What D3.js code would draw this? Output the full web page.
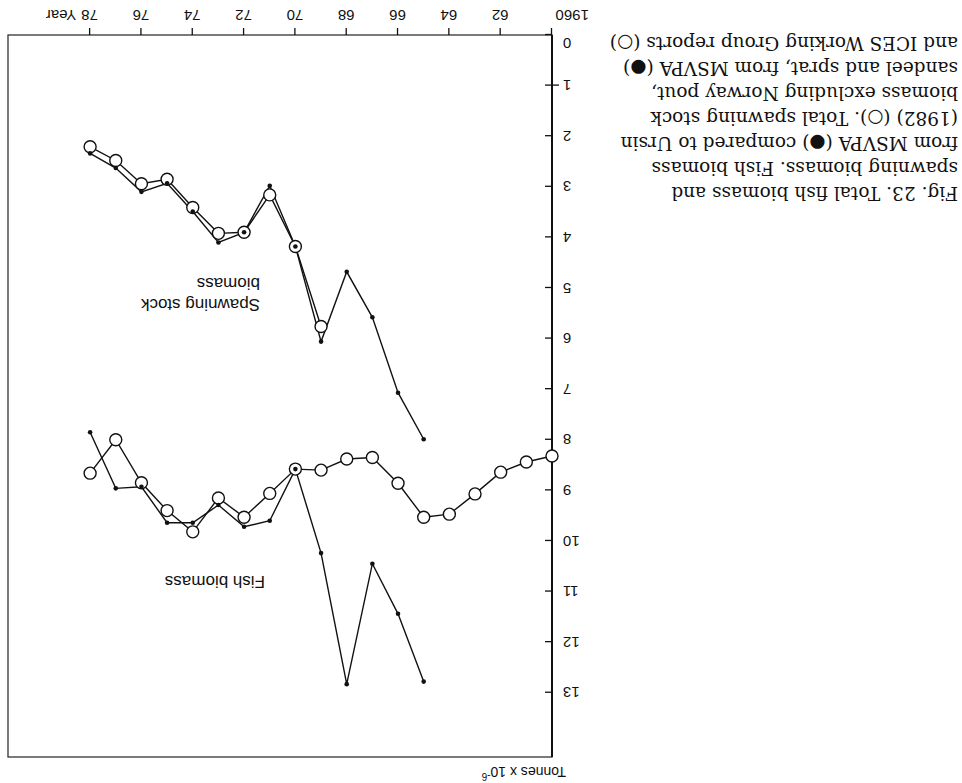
<!DOCTYPE html>
<html lang="en">
<head>
<meta charset="UTF-8">
<title>Fig. 23 - Total fish biomass and spawning biomass</title>
<style>
    body { margin: 0; background: #fff; }
    /* the reference page is printed upside down, so the whole chart is turned */
    #chart { display: block; transform: rotate(180deg); }
    .axis text { font-family: "Liberation Sans", Arial, sans-serif; font-size: 15px; fill: #111; }
    .axis line { stroke: #111; stroke-width: 1.3; }
    .axis .domain { display: none; }
    .label { font-family: "Liberation Sans", Arial, sans-serif; font-size: 17px; fill: #111; }
    .caption { font-family: "DejaVu Serif", serif; font-size: 18.5px; fill: #111; }
</style>
</head>
<body>
<svg id="chart"></svg>
<script src="https://d3js.org/d3.v7.min.js"></script>
<script>
    // fish biomass, Ursin (1982) - open circles
    const fishUrsinYears = [1960, 1961, 1962, 1963, 1964, 1965, 1966, 1967, 1968, 1969,
        1970, 1971, 1972, 1973, 1974, 1975, 1976, 1977, 1978];
    const fishUrsin = [8.32, 8.44, 8.64, 9.07, 9.47, 9.53, 8.86, 8.35, 8.38, 8.60,
        8.58, 9.06, 9.53, 9.15, 9.82, 9.40, 8.85, 8.00, 8.66];

    // fish biomass, MSVPA - dots
    const fishMsvpaYears = [1965, 1966, 1967, 1968, 1969, 1970, 1971, 1972, 1973, 1974, 1975, 1976, 1977, 1978];
    const fishMsvpa = [12.78, 11.44, 10.45, 12.83, 10.24, 8.58, 9.60, 9.72, 9.29, 9.64, 9.64, 8.93, 8.96, 7.85];

    // spawning stock biomass, ICES working group - open circles
    const spawnIcesYears = [1969, 1970, 1971, 1972, 1973, 1974, 1975, 1976, 1977, 1978];
    const spawnIces = [5.76, 4.18, 3.16, 3.90, 3.92, 3.41, 2.85, 2.94, 2.48, 2.21];

    // spawning stock biomass, MSVPA - dots
    const spawnMsvpaYears = [1965, 1966, 1967, 1968, 1969, 1970, 1971, 1972, 1973, 1974, 1975, 1976, 1977, 1978];
    const spawnMsvpa = [7.99, 7.07, 5.58, 4.68, 6.06, 4.18, 2.98, 3.90, 4.10, 3.49, 2.93, 3.10, 2.63, 2.34];

    const yearTicks = [1960, 1962, 1964, 1966, 1968, 1970, 1972, 1974, 1976, 1978];
    const tonneTicks = [0, 1, 2, 3, 4, 5, 6, 7, 8, 9, 10, 11, 12, 13];

    const captionLines = [
        "Fig. 23.  Total fish biomass and",
        "spawning biomass. Fish biomass",
        "from MSVPA (\u25CF) compared to Ursin",
        "(1982) (\u25CB). Total spawning stock",
        "biomass excluding Norway pout,",
        "sandeel and sprat, from MSVPA (\u25CF)",
        "and ICES Working Group reports (\u25CB)"
    ];

    const W = 962, H = 783;
    const svg = d3.select("#chart").attr("width", W).attr("height", H);

    const x = d3.scaleLinear().domain([1960, 1981.2]).range([410, 954]);
    const y = d3.scaleLinear().domain([0, 14.27]).range([748, 26]);

    const pts = (yrs, vals) => yrs.map((yr, i) => ({year: yr, value: vals[i]}));
    const fishU = pts(fishUrsinYears, fishUrsin);
    const fishM = pts(fishMsvpaYears, fishMsvpa);
    const spawnI = pts(spawnIcesYears, spawnIces);
    const spawnM = pts(spawnMsvpaYears, spawnMsvpa);

    // frame
    svg.append("rect")
        .attr("x", x(1960)).attr("y", y(14.27))
        .attr("width", x(1981.2) - x(1960)).attr("height", y(0) - y(14.27))
        .attr("fill", "none").attr("stroke", "#333").attr("stroke-width", 1.3);
    svg.append("line")
        .attr("x1", x(1960)).attr("x2", x(1960))
        .attr("y1", y(14.27)).attr("y2", y(0))
        .attr("stroke", "#111").attr("stroke-width", 2);

    // x axis, ticks outside
    const xAxis = svg.append("g").attr("class", "axis")
        .attr("transform", `translate(0,${y(0)})`)
        .call(d3.axisBottom(x).tickValues(yearTicks).tickSize(7).tickPadding(7)
            .tickFormat(d => d === 1960 ? "1960" : String(d).slice(2)));
    xAxis.selectAll(".tick text").filter(d => d === 1960)
        .attr("text-anchor", "end").attr("dx", "-4");
    xAxis.append("text")
        .attr("x", x(1978) + 14).attr("y", 14).attr("dy", "0.71em")
        .attr("text-anchor", "start").text("Year");

    // y axis, ticks inside
    const yAxis = svg.append("g").attr("class", "axis")
        .attr("transform", `translate(${x(1960)},0)`)
        .call(d3.axisLeft(y).tickValues(tonneTicks).tickSize(-7).tickPadding(11));
    yAxis.selectAll(".tick").filter(d => d === 1)
        .append("line").attr("x1", -7).attr("x2", 0);
    yAxis.selectAll(".tick text").filter(d => d === 0)
        .attr("dy", "-0.2em");
    yAxis.append("text")
        .attr("x", -14).attr("y", y(14.27) - 10)
        .attr("text-anchor", "start")
        .style("font-size", "14px")
        .text("Tonnes x 10")
        .append("tspan").attr("dy", "-6").style("font-size", "10px").text("-6");

    // lines
    const line = d3.line().x(d => x(d.year)).y(d => y(d.value));
    [fishU, fishM, spawnI, spawnM].forEach(s => {
        svg.append("path").datum(s)
            .attr("d", line)
            .attr("fill", "none").attr("stroke", "#111").attr("stroke-width", 1.4);
    });

    // open circles
    svg.append("g").selectAll("circle")
        .data(fishU.concat(spawnI))
        .join("circle")
        .attr("cx", d => x(d.year)).attr("cy", d => y(d.value))
        .attr("r", 6)
        .attr("fill", "#fff").attr("stroke", "#111").attr("stroke-width", 1.4);

    // dots
    svg.append("g").selectAll("circle")
        .data(fishM.concat(spawnM))
        .join("circle")
        .attr("cx", d => x(d.year)).attr("cy", d => y(d.value))
        .attr("r", 2.3)
        .attr("fill", "#111");

    // series labels
    svg.append("text").attr("class", "label")
        .attr("x", 697).attr("y", 201).attr("dy", "0.35em")
        .text("Fish biomass");
    const spawnLabel = svg.append("text").attr("class", "label")
        .attr("x", 702).attr("y", 478).attr("dy", "0.35em");
    spawnLabel.append("tspan").text("Spawning stock");
    spawnLabel.append("tspan").attr("x", 702).attr("dy", "21").text("biomass");

    // caption
    svg.append("g").selectAll("text")
        .data(captionLines)
        .join("text")
        .attr("class", "caption")
        .attr("x", 4)
        .attr("y", (d, i) => 590 + i * 25)
        .attr("dy", "0.35em")
        .text(d => d);
</script>
</body>
</html>
